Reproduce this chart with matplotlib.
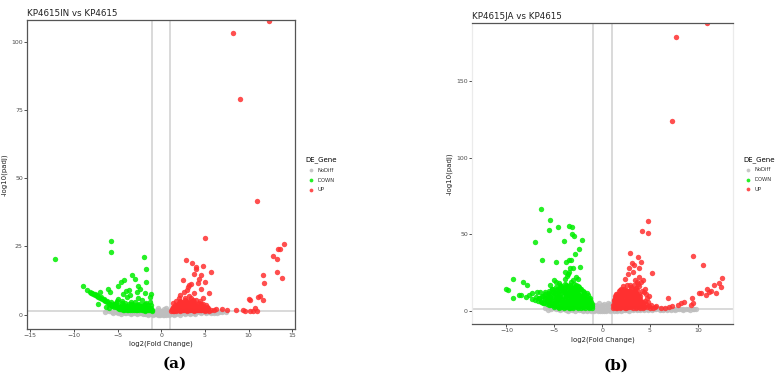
import matplotlib.pyplot as plt

# panel (a): KP4615IN vs KP4615, points as (log2FC, -log10 padj)
nodiff_a = [(-6.0,1.2),(-5.6,1.1),(-5.2,1.0),(-4.9,1.1),(-4.6,0.9),(-4.3,0.9),(-4.0,0.8),(-3.7,0.8),
            (-3.4,0.7),(-3.1,0.6),(-2.8,0.6),(-2.5,0.5),(-2.2,0.5),(-1.9,0.4),(-1.6,0.3),(-1.3,0.3),
            (-1.0,0.2),(-0.7,0.2),(-0.4,0.1),(-0.1,0.0),(0.2,0.0),(0.5,0.1),(0.8,0.2),(1.1,0.3),
            (1.4,0.3),(1.7,0.4),(2.0,0.5),(2.3,0.5),(2.6,0.6),(2.9,0.7),(3.2,0.7),(3.5,0.8),(3.8,0.8),
            (4.1,0.9),(4.4,0.9),(4.7,1.0),(5.0,1.0),(5.4,1.1),(5.8,1.1),(6.2,1.0),(6.6,1.0),(7.0,0.9),
            (-5.0,0.6),(-4.2,0.5),(-3.5,0.4),(-2.8,0.3),(-2.1,0.2),(-1.5,0.1),(-0.9,0.0),(-0.3,-0.1),
            (0.3,-0.2),(0.9,-0.1),(1.5,0.0),(2.1,0.1),(2.7,0.2),(3.3,0.3),(3.9,0.4),(4.5,0.5),(5.1,0.6),
            (5.7,0.7),(-3.9,1.2),(-3.0,1.1),(-2.2,1.0),(-1.4,0.9),(-1.1,1.3),(-0.8,0.7),(-0.6,1.1),
            (-0.5,1.6),(-0.3,0.6),(-0.2,1.9),(0.0,0.8),(0.1,1.4),(0.3,2.2),(0.4,0.9),(0.6,1.7),(0.7,0.5),
            (0.9,1.2),(1.2,0.9),(1.6,1.1),(2.2,1.2),(2.8,1.2),(3.4,1.2),(4.0,1.2),(4.6,1.2),(5.2,1.2),
            (6.0,0.6),(6.4,0.8),(-2.6,0.9),(-1.8,0.8),(-4.6,0.3),(-5.5,0.8),(-6.4,1.1),
            (-4.4,1.1),(-3.3,1.0),(-2.4,0.8),(-1.7,0.6),(-1.2,0.5),(-0.6,0.4),(0.6,0.4),(1.3,0.6),
            (1.9,0.8),(2.5,0.9),(3.1,1.0),(3.7,1.0),(4.3,1.1),(4.9,1.2),(5.5,0.9),(6.8,1.2),(7.4,1.1),
            (-0.8,1.4),(0.8,1.5),(-0.4,2.6),(0.5,2.5)]

down_a = [(-12.2,20.5),(-5.7,27),(-5.7,23),(-2.0,21),(-1.7,16.7),(-8.9,10.5),(-4.6,12),(-4.3,12.8),
          (-3.3,14.5),(-3.0,13),(-1.7,12),(-5.0,10.5),(-6.1,9.5),(-2.7,10.6),(-2.4,9.6),(-5.9,8.5),
          (-7.0,8.3),(-4.0,8.6),(-3.7,9),(-2.8,8.5),(-1.8,8.1),(-1.2,7.5),(-1.3,6.5),(-4.4,7.5),
          (-3.9,6.6),(-3.6,7.2),(-2.6,6.0),(-5.0,5.6),(-5.1,5.1),(-4.5,5.0),(-3.4,4.6),(-3.0,4.7),
          (-2.2,5.5),(-7.2,4.0),
          (-8.5,9.1),(-8.2,8.3),(-8.0,7.9),(-7.8,7.6),(-7.6,7.3),(-7.4,6.9),(-7.2,6.5),(-7.0,6.1),
          (-6.8,5.7),(-6.6,5.3),(-6.4,4.9),(-6.2,4.5),(-6.0,4.1),(-5.8,3.7),(-5.6,3.3),(-5.4,3.0),
          (-5.2,2.7),(-5.0,2.4),(-4.8,2.2),(-4.6,2.0),(-4.4,1.9),(-6.3,3.0),(-6.0,2.6),(-7.6,7.7),
          (-7.9,8.0),(-7.3,7.4),(-6.9,6.6),(-6.5,5.9),(-6.2,5.1),(-5.7,4.5),(-5.4,3.9),
          (-4.2,2.2),(-4.0,3.0),(-3.8,1.8),(-3.6,2.5),(-3.4,3.5),(-3.2,2.0),(-3.0,2.9),(-2.8,1.7),
          (-2.6,2.4),(-2.4,3.3),(-2.2,1.9),(-2.0,2.8),(-1.8,3.8),(-1.6,2.2),(-1.4,1.6),(-1.2,2.6),
          (-1.1,1.8),(-1.5,3.4),(-1.9,1.5),(-2.3,2.2),(-2.7,3.1),(-3.1,1.6),(-3.5,2.0),(-3.9,2.6),
          (-4.3,3.4),(-4.7,2.8),(-4.9,3.6),(-4.1,4.2),(-3.3,4.0),(-2.5,4.0),(-1.7,4.3),(-1.3,4.5),
          (-2.9,3.6),(-3.7,3.9),(-4.5,4.4),(-5.2,4.3),(-1.5,2.0),(-2.1,3.4),(-2.9,2.3),(-3.6,1.6),
          (-4.4,2.6),
          (-1.1,1.5),(-1.3,2.0),(-1.5,1.7),(-1.7,2.5),(-1.9,2.0),(-2.1,1.6),(-2.3,2.7),(-2.5,1.8),
          (-2.7,2.2),(-2.9,1.6),(-3.1,2.4),(-3.3,1.9),(-3.5,2.7),(-3.7,2.2),(-3.9,1.8),(-4.1,2.3),
          (-4.3,1.8),(-4.5,2.3),(-4.7,2.0),(-1.2,3.4),(-1.6,3.0),(-2.0,3.6),(-2.4,2.5),(-2.8,2.8),
          (-3.2,3.1),(-3.6,3.0),(-4.0,2.1),(-4.4,3.0),(-4.8,2.6),(-5.0,3.0),(-1.4,2.6),(-1.8,1.8),
          (-2.2,2.3),(-2.6,3.4),(-3.0,2.2),(-3.4,2.6),(-3.8,3.3),(-4.2,2.9),(-4.6,3.3),(-5.3,3.5),
          (-5.5,3.6),(-5.9,4.0)]

up_a = [(12.3,107.5),(8.2,103),(9.0,79),(11.0,41.5),(5.0,28),(14.0,26),(13.4,24),(13.6,24),
        (12.8,21.5),(13.2,20.5),(2.8,20),(3.5,19),(4.8,18),(4.0,17.6),(4.0,16.6),(5.7,15.5),
        (13.2,15.5),(11.6,14.5),(3.8,15),(4.5,14.5),(13.8,13.5),(4.3,13),(2.5,12.8),(5.0,12),
        (11.7,11.5),(4.2,11.6),(3.4,11.3),(3.2,10.8),(3.1,10),(4.5,9.5),(3.0,9),(5.5,8.1),(2.6,8.2),
        (3.7,8.1),(2.2,7.2),(11.1,6.5),(11.3,6.8),(2.0,6.0),(11.6,5.5),(10.0,5.8),(10.1,5.3),
        (1.7,5.0),(3.2,7.0),(2.7,6.3),(4.8,6.0),
        (6.3,2.2),(7.0,2.0),(7.5,1.7),(8.5,1.6),(9.3,1.6),(9.6,1.5),(10.2,1.5),(10.5,1.5),(10.7,2.3),
        (10.9,1.5),(5.7,1.8),(5.3,2.5),(5.2,3.0),(6.0,1.6),(5.5,1.5),
        (1.1,1.5),(1.2,2.0),(1.3,1.6),(1.4,2.3),(1.5,1.8),(1.6,2.6),(1.7,1.5),(1.8,2.1),(1.9,3.0),
        (2.0,1.7),(2.1,2.4),(2.2,3.4),(2.3,1.9),(2.4,2.8),(2.5,4.0),(2.5,1.6),(2.6,2.2),(2.7,3.2),
        (2.8,4.6),(2.8,1.8),(2.9,2.6),(3.0,3.7),(3.0,1.5),(3.1,2.1),(3.1,5.0),(3.2,3.0),(3.3,1.7),
        (3.3,4.2),(3.4,2.5),(3.5,3.5),(3.5,1.6),(3.6,5.4),(3.6,2.0),(3.7,2.9),(3.8,4.0),(3.8,1.5),
        (3.9,2.4),(4.0,3.3),(4.0,5.5),(4.1,1.8),(4.2,2.7),(4.3,4.4),(4.3,1.6),(4.4,2.2),(4.5,3.1),
        (4.6,1.7),(4.7,2.5),(4.8,3.8),(4.9,1.6),(5.0,2.1),(5.1,3.4),(5.2,1.8),(1.3,3.0),(1.6,3.6),
        (2.0,4.4),(2.2,5.2),(1.9,2.2),(2.3,3.9),(2.7,5.5),(3.4,6.0),(2.1,1.5),(2.4,1.7),(2.9,2.0),
        (3.2,2.3),(3.7,1.8),(4.1,2.0),(4.5,1.9),(4.9,2.6),(1.5,1.5),(2.6,3.0),(3.0,2.8),(3.3,3.3),
        (3.9,3.6),(4.2,3.0),(4.6,4.0),(2.4,4.8),(3.5,4.6),(4.4,5.2),
        (1.2,1.7),(1.4,1.5),(1.6,2.0),(1.8,1.6),(2.0,2.0),(2.2,1.6),(2.4,2.1),(2.6,1.8),(2.8,2.3),
        (3.0,2.0),(3.2,1.6),(3.4,2.0),(3.6,1.7),(3.8,2.2),(4.0,1.6),(4.2,1.9),(4.4,1.6),(4.6,2.3),
        (4.8,1.9),(5.0,1.5),(5.2,2.3),(1.7,3.2),(1.9,3.9),(2.1,3.1),(2.3,2.6),(2.5,3.4),(2.7,2.5),
        (2.9,3.3),(3.1,2.6),(3.3,2.7),(3.5,2.6),(3.7,2.3),(3.9,2.9),(4.1,2.5),(4.3,2.3),(4.5,2.6),
        (4.7,3.2),(2.2,4.5),(2.6,4.3),(3.0,4.5),(3.4,4.9),(3.8,4.8),(4.2,4.0),(3.1,3.4),(2.8,3.6),
        (3.6,3.0),(4.0,2.3),(1.4,4.2),(2.0,3.0),(2.6,2.7)]

# panel (b): KP4615JA vs KP4615
nodiff_b = [(-6.0,1.8),(-5.5,1.6),(-5.0,1.5),(-4.6,1.4),(-4.2,1.3),(-3.8,1.2),(-3.4,1.0),(-3.0,0.9),
            (-2.6,0.8),(-2.2,0.7),(-1.8,0.5),(-1.4,0.4),(-1.0,0.3),(-0.6,0.2),(-0.2,0.0),(0.2,0.0),
            (0.6,0.2),(1.0,0.3),(1.4,0.4),(1.8,0.5),(2.2,0.6),(2.6,0.7),(3.0,0.8),(3.4,0.9),(3.8,1.0),
            (4.2,1.0),(4.6,1.1),(5.0,1.1),(5.5,1.2),(6.0,1.2),(6.5,1.1),(7.0,1.0),(7.5,1.0),(8.0,0.9),
            (8.5,0.9),(9.0,0.8),(9.5,0.8),
            (-4.8,0.9),(-4.0,0.8),(-3.2,0.5),(-2.4,0.3),(-1.6,0.1),(-0.8,-0.1),(0.0,-0.2),(0.8,-0.1),
            (1.6,0.1),(2.4,0.3),(3.2,0.5),(4.0,0.6),(4.8,0.7),(5.6,0.8),(6.4,0.6),(7.2,0.6),
            (-5.2,2.1),(-4.4,1.9),(-3.6,1.6),(-2.8,1.4),(-2.0,1.2),(-1.2,1.1),(-0.9,1.8),(-0.7,2.6),
            (-0.5,1.4),(-0.4,3.2),(-0.3,0.9),(-0.1,2.2),(0.1,1.2),(0.3,2.8),(0.4,0.7),(0.5,3.6),
            (0.6,1.6),(0.7,2.4),(0.8,4.1),(0.9,1.3),(1.0,2.0),(1.3,1.3),(1.7,1.2),(2.5,1.3),(3.3,1.4),
            (4.1,1.5),(4.9,1.5),(5.8,1.6),(6.8,1.4),(7.8,1.3),(8.8,1.2),(9.6,1.1),(-1.0,2.9),(0.2,4.6),
            (-0.6,4.0),(0.9,3.2),(-3.0,1.8),(-2.2,1.6),(-1.5,1.5),
            (-5.7,0.4),(-4.4,0.3),(-3.6,0.1),(-2.8,0.0),(-2.0,-0.2),(-1.2,-0.3),(-0.4,-0.4),(0.4,-0.4),
            (1.2,-0.3),(2.0,-0.1),(2.8,0.0),(3.6,0.2),(4.4,0.3),(5.2,0.4),(6.0,0.5),(6.8,0.3),(7.6,0.4),
            (8.4,0.3),(9.2,0.4),(-5.3,1.0),(-3.8,0.6),(-2.0,0.4),(-0.9,0.6),(0.5,0.6),(1.2,0.9),
            (2.0,1.0),(2.8,1.1),(3.6,1.2),(4.4,1.3),(5.3,0.9),(6.2,0.9),(7.4,1.3),(8.2,1.1),(9.8,0.9),
            (-0.2,1.0),(0.0,3.4),(-0.8,3.6),(0.6,5.2),(-0.3,5.0),(1.0,4.6)]

down_b = [(-6.4,66.5),(-5.5,59.5),(-5.6,53),(-4.6,54.5),(-3.5,55.5),(-3.1,55),(-3.2,50),(-2.9,49),
          (-7.0,45),(-4.0,45.5),(-2.1,46.5),(-2.4,40),(-2.8,37),(-6.3,33),(-4.8,32),(-3.5,33),
          (-3.3,33),(-3.8,31.5),(-3.4,28),(-3.0,28),(-2.3,28.5),(-3.5,25.5),(-3.9,25),(-9.3,21),
          (-8.3,19),(-7.9,17),(-10.0,14),(-9.8,13.8),(-9.3,8),(-8.7,10.5),(-8.5,10.3),(-8.0,9),
          (-7.6,10),(-7.3,11.5),(-6.8,12.5),(-6.5,12),(-5.5,17),(-5.0,20),(-4.8,19),(-4.5,18),
          (-3.9,21),(-3.0,20),(-2.5,20.5),(-2.7,22),(-3.7,22.5),(-3.6,24),
          (-7.3,7.5),(-7.0,6.8),(-6.7,6.2),(-6.4,5.8),(-6.1,5.2),(-5.8,4.6),(-5.5,4.0),(-5.2,3.6),
          (-4.9,3.1),(-4.6,2.6),(-4.3,2.2),(-4.0,1.8),(-6.9,9.0),(-6.6,8.2),(-6.2,9.5),(-6.0,7.5),
          (-5.7,10.5),(-5.4,8.8),(-5.1,12.5),(-4.9,7.0),(-4.7,14.5),(-4.5,10.0),(-4.3,16.0),(-4.2,5.5),
          (-4.0,12.0),(-3.9,8.5),(-3.8,17.0),(-3.7,4.2),(-3.6,13.5),(-3.5,10.5),(-3.4,6.5),(-3.3,18.5),
          (-3.2,3.0),(-3.1,15.0),(-3.0,9.0),(-2.9,12.5),(-2.8,5.0),(-2.7,16.5),(-2.6,7.5),(-2.5,11.0),
          (-2.4,3.6),(-2.3,14.0),(-2.2,6.0),(-2.1,9.5),(-2.0,2.5),(-1.9,12.0),(-1.8,4.5),(-1.7,7.5),
          (-1.6,3.0),(-1.5,10.0),(-1.4,5.5),(-1.3,2.2),(-1.2,4.0),(-1.1,3.0),
          (-5.8,6.5),(-5.6,11.5),(-5.3,5.2),(-5.0,9.0),(-4.8,4.4),(-4.6,6.8),(-4.4,12.8),(-4.1,3.5),
          (-3.9,6.0),(-3.7,11.0),(-3.5,2.6),(-3.3,8.0),(-3.1,4.8),(-2.9,7.0),(-2.7,10.0),(-2.5,5.5),
          (-2.3,4.2),(-2.1,6.8),(-1.9,8.5),(-1.7,5.0),(-1.5,6.5),(-1.3,8.0),(-1.2,2.8),(-2.0,11.0),
          (-2.8,14.0),(-3.6,16.0),(-4.4,9.0),(-5.2,14.5),(-6.0,12.5),(-3.2,11.5),(-2.4,8.0),(-1.6,11.5),
          (-4.0,15.0),(-3.4,13.0),(-2.6,12.8),(-4.8,11.0),(-5.5,7.5),(-3.8,2.5),(-3.0,2.0),(-2.2,1.9),
          (-4.4,4.0),(-3.6,5.5),(-2.8,3.0),(-2.0,4.0),(-1.4,1.8),(-1.8,2.0),(-2.6,2.4),(-3.4,1.8),
          (-4.2,2.8),(-5.0,5.0),(-3.0,6.0),(-2.2,3.0),(-4.6,8.0),(-3.8,9.5),(-1.9,6.2),(-2.5,16.0),
          (-5.0,2.2),(-4.5,1.9),(-4.0,2.3),(-3.5,1.7),(-3.0,2.4),(-2.5,1.8),(-2.0,2.1),(-1.5,2.3),
          (-1.1,1.9),(-5.6,3.4),(-5.0,3.7),(-4.5,3.2),(-4.0,3.8),(-3.5,3.4),(-3.0,3.6),(-2.5,3.2),
          (-2.0,3.5),(-1.5,3.8),(-1.1,4.3),(-6.2,5.0),(-5.6,5.3),(-5.0,4.8),(-4.5,5.2),(-4.0,4.9),
          (-3.5,5.1),(-3.0,4.6),(-2.5,4.9),(-2.0,5.3),(-1.5,4.7),(-1.2,5.4),(-6.4,6.6),(-5.8,6.8),
          (-5.2,6.4),(-4.7,6.1),(-4.2,6.9),(-3.7,6.3),(-3.2,6.7),(-2.7,6.2),(-2.2,6.6),(-1.7,6.4),
          (-1.3,6.9),(-6.6,8.0),(-6.0,8.3),(-5.4,7.8),(-4.8,8.4),(-4.3,7.7),(-3.8,8.1),(-3.3,7.6),
          (-2.8,8.3),(-2.3,7.9),(-1.8,8.1),(-1.4,7.4),(-6.3,9.6),(-5.7,9.2),(-5.1,9.8),(-4.6,9.4),
          (-4.1,9.9),(-3.6,9.1),(-3.1,9.7),(-2.6,9.3),(-2.1,9.8),(-1.6,9.0),(-6.0,11.0),(-5.4,10.6),
          (-4.9,11.3),(-4.4,10.8),(-3.9,11.4),(-3.4,10.7),(-2.9,11.2),(-2.4,10.5),(-1.9,10.9),
          (-5.6,12.7),(-5.0,12.2),(-4.5,12.6),(-4.0,13.0),(-3.5,12.3),(-3.0,12.9),(-2.5,12.2),
          (-2.0,12.6),(-5.2,14.1),(-4.7,13.6),(-4.2,14.3),(-3.7,13.8),(-3.2,14.4),(-2.7,13.7),
          (-2.2,14.0),(-4.8,15.6),(-4.3,15.2),(-3.8,15.8),(-3.3,15.3),(-2.8,15.7),(-2.4,15.2),
          (-4.4,17.1),(-3.9,17.6),(-3.4,16.9),(-2.9,17.4)]

up_b = [(11.0,188),(7.7,179),(7.3,124),(4.8,58.5),(4.2,52),(4.8,51),(9.5,36),(2.9,38),(3.7,35),
        (10.5,30),(3.1,31),(4.1,32),(3.3,30),(2.8,28),(3.8,28),(3.2,25),(5.2,24.5),(12.5,21.5),
        (3.9,22),(2.7,24),(4.3,20),(4.1,19),(12.2,18),(11.7,17),(12.4,15.5),(11.0,14),(11.4,13),
        (11.2,12),(10.3,11.5),(10.1,11.3),(11.9,11.5),(10.9,10),(9.4,8.5),(6.9,8.5),(9.5,5),(9.3,4),
        (8.6,6),(8.2,5),(7.9,4),(7.3,3),(7.0,2.5),(6.6,1.8),(5.5,2.5),(5.6,3),(6.2,1.7),(5.3,1.6),
        (4.5,6.5),(4.7,8),(4.4,12),(3.5,15),(4.6,11),(4.9,9.5),(3.6,19),(2.4,21),(3.4,20),(4.5,14),
        (1.1,1.8),(1.2,3.5),(1.3,5.5),(1.3,2.2),(1.4,7.0),(1.5,4.0),(1.5,1.7),(1.6,8.5),(1.7,2.8),
        (1.7,5.8),(1.8,10.0),(1.9,3.6),(1.9,1.9),(2.0,7.2),(2.1,12.0),(2.1,4.6),(2.2,2.4),(2.3,9.0),
        (2.3,14.5),(2.4,6.0),(2.4,3.0),(2.5,11.0),(2.5,1.8),(2.6,16.5),(2.6,4.8),(2.7,8.0),(2.7,2.6),
        (2.8,13.0),(2.8,6.5),(2.9,3.8),(2.9,10.5),(3.0,2.2),(3.0,15.5),(3.1,5.4),(3.1,8.5),(3.2,12.5),
        (3.2,3.0),(3.3,7.0),(3.3,17.0),(3.4,4.2),(3.4,10.0),(3.5,2.0),(3.5,6.0),(3.6,13.5),(3.6,8.0),
        (3.7,3.4),(3.8,11.0),(3.8,5.0),(3.9,16.0),(3.9,2.5),(4.0,7.5),(4.0,9.5),(4.1,4.0),(4.2,13.0),
        (4.3,2.0),(4.3,6.0),(4.4,3.0),(4.6,4.5),(4.7,2.2),(4.8,5.5),(4.9,3.0),(5.0,1.8),(5.1,4.0),
        (1.2,6.5),(1.4,9.5),(1.6,3.2),(1.8,6.8),(2.0,4.0),(2.2,10.5),(2.4,13.0),(2.6,7.5),(2.8,4.2),
        (3.0,11.5),(3.2,9.0),(3.4,14.0),(3.6,5.5),(3.8,7.0),(4.0,2.8),(1.5,11.0),(1.9,13.5),(2.2,16.0),
        (2.9,17.0),(3.7,17.5),(1.3,8.0),(2.0,2.6),(2.5,5.2),(3.1,3.8),(3.5,11.5),(4.2,5.2),(1.8,4.8),
        (1.2,2.1),(1.6,1.9),(2.0,2.2),(2.4,1.9),(2.8,2.2),(3.2,1.8),(3.6,2.3),(4.0,1.9),(4.4,2.1),
        (1.1,3.6),(1.5,3.3),(1.9,3.7),(2.3,3.4),(2.7,3.8),(3.1,3.3),(3.5,3.7),(3.9,3.4),(4.3,3.8),
        (1.3,5.1),(1.7,4.8),(2.1,5.3),(2.5,4.9),(2.9,5.2),(3.3,4.8),(3.7,5.3),(4.1,4.9),(1.2,6.7),
        (1.6,6.3),(2.0,6.8),(2.4,6.4),(2.8,6.9),(3.2,6.3),(3.6,6.8),(4.0,6.4),(1.4,8.1),(1.8,7.8),
        (2.2,8.3),(2.6,7.9),(3.0,8.2),(3.4,7.7),(3.8,8.3),(1.3,9.6),(1.7,9.2),(2.1,9.7),(2.5,9.3),
        (2.9,9.8),(3.3,9.4),(3.7,9.7),(1.6,11.1),(2.0,10.8),(2.4,11.3),(2.8,10.9),(3.2,11.2),
        (3.6,10.7),(1.8,12.6),(2.2,12.3),(2.6,12.7),(3.0,12.4),(3.4,12.8),(2.0,14.1),(2.5,13.8),
        (3.0,14.2)]

legend_labels = ["NoDiff", "DOWN", "UP"]
colors = ["#BEBEBE", "#00EE00", "#FF3030"]

fig = plt.figure(figsize=(7.81, 3.79), dpi=100)
ax_a = fig.add_axes([0.0346, 0.1327, 0.3431, 0.8145])
ax_b = fig.add_axes([0.6044, 0.1443, 0.3338, 0.7942])


def volcano(ax, groups, xlim, ylim, xticks, yticks, title):
    # reference lines first, points on top
    ax.axvline(-1, color="#D0D0D0", lw=1.1, zorder=1)
    ax.axvline(1, color="#D0D0D0", lw=1.1, zorder=1)
    ax.axhline(1.3, color="#D0D0D0", lw=1.1, zorder=1)
    for pts, lab, c in zip(groups, legend_labels, colors):
        xs = [p[0] for p in pts]
        ys = [p[1] for p in pts]
        ax.scatter(xs, ys, s=15, color=c, alpha=0.85, lw=0, label=lab, zorder=2)
    ax.set_xlim(*xlim)
    ax.set_ylim(*ylim)
    ax.set_xticks(xticks)
    ax.set_yticks(yticks)
    ax.tick_params(labelsize=4.5, colors="#333333", labelcolor="#4D4D4D", length=2, width=0.6, pad=1)
    ax.set_xlabel("log2(Fold Change)", fontsize=5, color="#222222", labelpad=2)
    ax.set_ylabel("-log10(padj)", fontsize=5, color="#222222")
    ax.yaxis.set_label_coords(-0.073, 0.5)
    ax.set_title(title, fontsize=6.3, loc="left", color="#222222", pad=3)
    leg = ax.legend(title="DE_Gene", loc="center left", bbox_to_anchor=(1.04, 0.5),
                    frameon=False, fontsize=3.8, title_fontsize=5, markerscale=0.7,
                    handletextpad=0.2, labelspacing=0.9, borderpad=0, borderaxespad=0,
                    alignment="left")
    for t in leg.get_texts():
        t.set_color("#333333")
    return leg


volcano(ax_a, [nodiff_a, down_a, up_a], (-15.35, 15.3), (-5.1, 107.9),
        [-15, -10, -5, 0, 5, 10, 15], [0, 25, 50, 75, 100], "KP4615IN vs KP4615")
volcano(ax_b, [nodiff_b, down_b, up_b], (-13.6, 13.65), (-8.9, 187.8),
        [-10, -5, 0, 5, 10], [0, 50, 100, 150], "KP4615JA vs KP4615")

for sp in ax_a.spines.values():
    sp.set_color("#555555")
    sp.set_linewidth(0.9)
for name, sp in ax_b.spines.items():
    if name in ("top", "bottom"):
        sp.set_color("#555555")
        sp.set_linewidth(0.9)
    else:
        sp.set_color("#EBEBEB")
        sp.set_linewidth(0.9)

fig.text(0.224, 0.03, "(a)", fontsize=11, fontweight="bold", family="DejaVu Serif", ha="center")
fig.text(0.789, 0.025, "(b)", fontsize=11, fontweight="bold", family="DejaVu Serif", ha="center")

fig.savefig("out.png", dpi=100)
